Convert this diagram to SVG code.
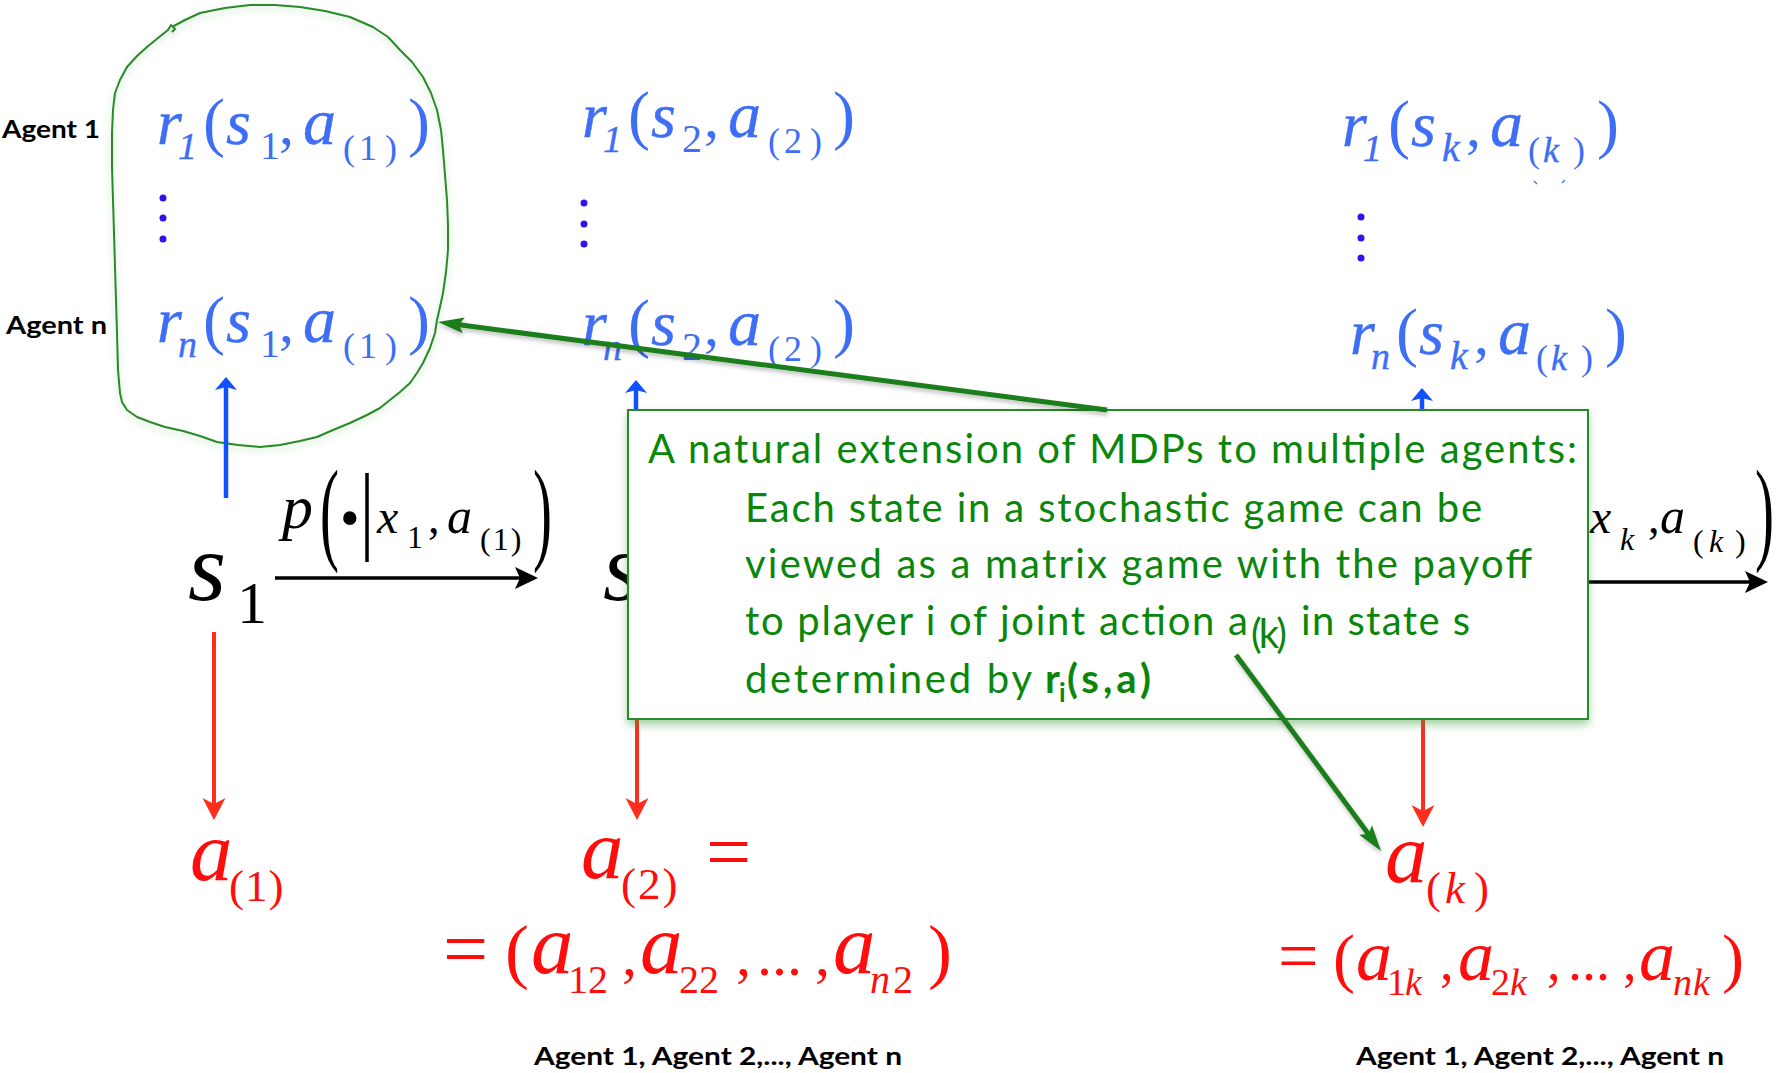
<svg xmlns="http://www.w3.org/2000/svg" width="1777" height="1073" viewBox="0 0 1777 1073">
<style>
.bi{font-family:"Liberation Serif",serif;font-style:italic;fill:#3d6ef5;stroke:#3d6ef5;stroke-width:0.4}
.bu{font-family:"Liberation Serif",serif;fill:#3d6ef5}
.ki{font-family:"Liberation Serif",serif;font-style:italic;fill:#000}
.ku{font-family:"Liberation Serif",serif;fill:#000}
.ri{font-family:"Liberation Serif",serif;font-style:italic;fill:#ff0d0d}
.ru{font-family:"Liberation Serif",serif;fill:#ff0d0d}
.lbl{font-family:Lato,"Liberation Sans",sans-serif;font-weight:700;font-size:24px;fill:#000}
.gt{font-family:Lato,"Liberation Sans",sans-serif;font-size:40px;fill:#0a860a}
.gtb{font-family:Lato,"Liberation Sans",sans-serif;font-weight:700;fill:#0a860a}
.dot{fill:#3311ee}
.blue{stroke:#1150ff;stroke-width:4.5;fill:none}
.red{stroke:#ff2d1e;stroke-width:4;fill:none}
.blk{stroke:#000;stroke-width:3.5;fill:none}
.grn{stroke:#1a7d1a;stroke-width:5;fill:none}
</style>
<defs>
<marker id="mBlue" markerUnits="userSpaceOnUse" markerWidth="30" markerHeight="30" viewBox="-2 -15 30 30" refX="5" refY="0" orient="auto"><path d="M0,-11 L13,0 L0,11 L3,0 Z" fill="#1150ff"/></marker>
<marker id="mRed" markerUnits="userSpaceOnUse" markerWidth="30" markerHeight="30" viewBox="-2 -15 30 30" refX="10" refY="0" orient="auto"><path d="M0,-11.5 L22,0 L0,11.5 L6,0 Z" fill="#ff2d1e"/></marker>
<marker id="mBlk" markerUnits="userSpaceOnUse" markerWidth="30" markerHeight="30" viewBox="-2 -15 30 30" refX="11" refY="0" orient="auto"><path d="M0,-11 L23,0 L0,11 L5,0 Z" fill="#000"/></marker>
<marker id="mGrn" markerUnits="userSpaceOnUse" markerWidth="30" markerHeight="30" viewBox="-2 -15 30 30" refX="12" refY="0" orient="auto"><path d="M0,-8 L26,0 L0,8 L5,0 Z" fill="#1a7d1a"/></marker>
<filter id="boxShadow" x="-5%" y="-10%" width="110%" height="125%"><feDropShadow dx="0" dy="5" stdDeviation="4" flood-color="#3a9a3a" flood-opacity="0.45"/></filter>
<filter id="blobShadow" x="-10%" y="-10%" width="120%" height="120%"><feDropShadow dx="0" dy="3" stdDeviation="3" flood-color="#3a9a3a" flood-opacity="0.3"/></filter>
<filter id="arrShadow" x="-10%" y="-10%" width="120%" height="120%"><feDropShadow dx="1" dy="3" stdDeviation="2" flood-color="#000" flood-opacity="0.25"/></filter>
</defs>
<rect width="1777" height="1073" fill="#fff"/>

<g id="reward-group-outline">
<path filter="url(#blobShadow)" fill="none" stroke="#2a8a2a" stroke-width="2" stroke-linejoin="round" d="M172,27 L185,20 L200,13 L225,8 L250,5 L275,5 L300,7 L325,11 L350,17 L373,27 L388,37 L400,50 L412,62 L423,77 L431,93 L437,110 L441,130 L443,150 L445,175 L447,200 L448,225 L448,250 L446,272 L443,293 L440,307 L437,320 L435,333 L430,348 L423,363 L417,373 L410,383 L400,392 L390,400 L380,408 L367,415 L350,423 L333,430 L317,437 L300,441 L280,445 L260,447 L238,445 L217,442 L200,436 L183,431 L165,427 L150,422 L137,417 L127,410 L122,402 L120,393 L118,370 L117,333 L116,300 L115,267 L114,233 L113,200 L112,167 L112,133 L113,110 L115,93 L120,80 L127,67 L137,56 L147,47 L158,38 L168,30 L171,25 L175,29 L172,32"/>
</g>

<g id="agent-labels">
<text class="lbl" x="2" y="138" textLength="98" lengthAdjust="spacingAndGlyphs">Agent 1</text>
<text class="lbl" x="6" y="334" textLength="101" lengthAdjust="spacingAndGlyphs">Agent n</text>
</g>

<g id="reward-col1-row1" transform="translate(157,144)">
<text class="bu"><tspan class="bi" x="0" y="0" font-size="64">r</tspan><tspan class="bi" x="21" y="15" font-size="38">1</tspan><tspan x="46" y="0" font-size="66">(</tspan><tspan class="bi" x="69" y="0" font-size="64">s</tspan><tspan x="103" y="15" font-size="40">1</tspan><tspan x="122" y="0" font-size="60">,</tspan><tspan class="bi" x="146" y="0" font-size="66">a</tspan><tspan x="186" y="16" font-size="36">(</tspan><tspan x="202" y="16" font-size="36">1</tspan><tspan x="228" y="16" font-size="36">)</tspan><tspan x="251" y="0" font-size="66">)</tspan></text>
</g>
<g id="reward-col1-row2" transform="translate(157,342)">
<text class="bu"><tspan class="bi" x="0" y="0" font-size="64">r</tspan><tspan class="bi" x="21" y="15" font-size="38">n</tspan><tspan x="46" y="0" font-size="66">(</tspan><tspan class="bi" x="69" y="0" font-size="64">s</tspan><tspan x="103" y="15" font-size="40">1</tspan><tspan x="122" y="0" font-size="60">,</tspan><tspan class="bi" x="146" y="0" font-size="66">a</tspan><tspan x="186" y="16" font-size="36">(</tspan><tspan x="202" y="16" font-size="36">1</tspan><tspan x="228" y="16" font-size="36">)</tspan><tspan x="251" y="0" font-size="66">)</tspan></text>
</g>
<g id="dots-col1"><circle class="dot" cx="163" cy="198" r="3.5"/><circle class="dot" cx="163" cy="218" r="3.5"/><circle class="dot" cx="163" cy="239" r="3.5"/></g>

<g id="reward-col2-row1" transform="translate(582,137)">
<text class="bu"><tspan class="bi" x="0" y="0" font-size="64">r</tspan><tspan class="bi" x="21" y="15" font-size="38">1</tspan><tspan x="46" y="0" font-size="66">(</tspan><tspan class="bi" x="69" y="0" font-size="64">s</tspan><tspan x="100" y="15" font-size="40">2</tspan><tspan x="122" y="0" font-size="60">,</tspan><tspan class="bi" x="146" y="0" font-size="66">a</tspan><tspan x="186" y="16" font-size="36">(</tspan><tspan x="202" y="16" font-size="36">2</tspan><tspan x="228" y="16" font-size="36">)</tspan><tspan x="251" y="0" font-size="66">)</tspan></text>
</g>
<g id="reward-col2-row2" transform="translate(582,345)">
<text class="bu"><tspan class="bi" x="0" y="0" font-size="64">r</tspan><tspan class="bi" x="21" y="15" font-size="38">n</tspan><tspan x="46" y="0" font-size="66">(</tspan><tspan class="bi" x="69" y="0" font-size="64">s</tspan><tspan x="100" y="15" font-size="40">2</tspan><tspan x="122" y="0" font-size="60">,</tspan><tspan class="bi" x="146" y="0" font-size="66">a</tspan><tspan x="186" y="16" font-size="36">(</tspan><tspan x="202" y="16" font-size="36">2</tspan><tspan x="228" y="16" font-size="36">)</tspan><tspan x="251" y="0" font-size="66">)</tspan></text>
</g>
<g id="dots-col2"><circle class="dot" cx="584" cy="203" r="3.5"/><circle class="dot" cx="584" cy="224" r="3.5"/><circle class="dot" cx="584" cy="244" r="3.5"/></g>

<g id="reward-colk-row1" transform="translate(1342,146)">
<text class="bu"><tspan class="bi" x="0" y="0" font-size="64">r</tspan><tspan class="bi" x="21" y="15" font-size="38">1</tspan><tspan x="46" y="0" font-size="66">(</tspan><tspan class="bi" x="69" y="0" font-size="64">s</tspan><tspan class="bi" x="100" y="15" font-size="40">k</tspan><tspan x="124" y="0" font-size="60">,</tspan><tspan class="bi" x="148" y="0" font-size="66">a</tspan><tspan x="186" y="16" font-size="36">(</tspan><tspan class="bi" x="201" y="16" font-size="36">k</tspan><tspan x="231" y="16" font-size="36">)</tspan><tspan x="255" y="0" font-size="66">)</tspan></text>
</g>
<g id="reward-colk-row2" transform="translate(1350,354)">
<text class="bu"><tspan class="bi" x="0" y="0" font-size="64">r</tspan><tspan class="bi" x="21" y="15" font-size="38">n</tspan><tspan x="46" y="0" font-size="66">(</tspan><tspan class="bi" x="69" y="0" font-size="64">s</tspan><tspan class="bi" x="100" y="15" font-size="40">k</tspan><tspan x="124" y="0" font-size="60">,</tspan><tspan class="bi" x="148" y="0" font-size="66">a</tspan><tspan x="186" y="16" font-size="36">(</tspan><tspan class="bi" x="201" y="16" font-size="36">k</tspan><tspan x="231" y="16" font-size="36">)</tspan><tspan x="255" y="0" font-size="66">)</tspan></text>
</g>
<g id="dots-colk"><circle class="dot" cx="1361" cy="217" r="3.5"/><circle class="dot" cx="1361" cy="238" r="3.5"/><circle class="dot" cx="1361" cy="258" r="3.5"/></g>
<g id="marks-colk" stroke="#3d6ef5" stroke-width="1.2"><line x1="1534" y1="181" x2="1537" y2="184"/><line x1="1565" y1="180" x2="1562" y2="183"/></g>

<g id="state-s1">
<text class="ki" x="188" y="600" font-size="98">s</text>
<text class="ku" x="237" y="623" font-size="60">1</text>
</g>
<g id="state-s2">
<text class="ki" x="603" y="600" font-size="98">s</text>
</g>

<g id="transition-label-1">
<text class="ki" x="282" y="528" font-size="62">p</text>
<text class="ku" font-size="114" transform="translate(320,549) scale(0.5,1)">(</text>
<text class="ku" x="340" y="537" font-size="56">•</text>
<line x1="367" y1="473" x2="367" y2="562" stroke="#000" stroke-width="3.5"/>
<text class="ki" x="377" y="533" font-size="48">x</text>
<text class="ku" x="407" y="548" font-size="32">1</text>
<text class="ku" x="428" y="533" font-size="46">,</text>
<text class="ki" x="447" y="533" font-size="50">a</text>
<text class="ku" x="480" y="550" font-size="32" letter-spacing="2">(1)</text>
<text class="ku" font-size="114" transform="translate(533,549) scale(0.5,1)">)</text>
</g>
<g id="transition-label-k">
<text class="ki" x="1590" y="533" font-size="48">x</text>
<text class="ki" x="1620" y="550" font-size="32">k</text>
<text class="ku" x="1648" y="533" font-size="46">,</text>
<text class="ki" x="1660" y="533" font-size="50">a</text>
<text class="ku" x="1693" y="552" font-size="32">(<tspan class="ki" x="1709">k</tspan><tspan x="1735">)</tspan></text>
<text class="ku" font-size="114" transform="translate(1755,549) scale(0.5,1)">)</text>
</g>

<g id="action-a1">
<text class="ri" x="190" y="880" font-size="85">a</text>
<text class="ru" x="229" y="901" font-size="45" letter-spacing="1">(1)</text>
</g>
<g id="action-a2">
<text class="ri" x="581" y="878" font-size="85">a</text>
<text class="ru" x="621" y="899" font-size="45" letter-spacing="2">(2)</text>
<text class="ru" x="706" y="879" font-size="80">=</text>
<text class="ru" font-size="80" x="443" y="976">=</text>
<text class="ru" x="505" y="975" font-size="72">(</text>
<text class="ri" x="531" y="973" font-size="85">a</text>
<text class="ru" x="568" y="993" font-size="40">12</text>
<text class="ru" x="622" y="975" font-size="60">,</text>
<text class="ri" x="640" y="973" font-size="85">a</text>
<text class="ru" x="679" y="993" font-size="40">22</text>
<text class="ru" x="736" y="975" font-size="60">,</text>
<text class="ru" x="757" y="975" font-size="60">...</text>
<text class="ru" x="815" y="975" font-size="60">,</text>
<text class="ri" x="833" y="973" font-size="85">a</text>
<text class="ri" x="870" y="993" font-size="40">n</text>
<text class="ru" x="893" y="993" font-size="40">2</text>
<text class="ru" x="928" y="975" font-size="72">)</text>
</g>
<g id="action-ak">
<text class="ri" x="1385" y="882" font-size="85">a</text>
<text class="ru" x="1426" y="903" font-size="45">(</text>
<text class="ri" x="1445" y="903" font-size="45">k</text>
<text class="ru" x="1474" y="903" font-size="45">)</text>
<text class="ru" x="1278" y="980" font-size="72">=</text>
<text class="ru" x="1333" y="980" font-size="66">(</text>
<text class="ri" x="1356" y="980" font-size="72">a</text>
<text class="ru" x="1387" y="995" font-size="38">1</text>
<text class="ri" x="1405" y="995" font-size="38">k</text>
<text class="ru" x="1440" y="980" font-size="54">,</text>
<text class="ri" x="1458" y="980" font-size="72">a</text>
<text class="ru" x="1491" y="995" font-size="38">2</text>
<text class="ri" x="1510" y="995" font-size="38">k</text>
<text class="ru" x="1547" y="980" font-size="54">,</text>
<text class="ru" x="1568" y="980" font-size="56">...</text>
<text class="ru" x="1623" y="980" font-size="54">,</text>
<text class="ri" x="1639" y="980" font-size="72">a</text>
<text class="ri" x="1673" y="995" font-size="38">n</text>
<text class="ri" x="1693" y="995" font-size="38">k</text>
<text class="ru" x="1722" y="980" font-size="66">)</text>
</g>

<g id="bottom-labels">
<text class="lbl" x="534" y="1065" textLength="368" lengthAdjust="spacingAndGlyphs">Agent 1, Agent 2,..., Agent n</text>
<text class="lbl" x="1356" y="1065" textLength="368" lengthAdjust="spacingAndGlyphs">Agent 1, Agent 2,..., Agent n</text>
</g>

<g id="connectors">
<line class="blue" x1="226" y1="498" x2="226" y2="385" marker-end="url(#mBlue)"/>
<line class="blue" x1="636" y1="412" x2="636" y2="388" marker-end="url(#mBlue)"/>
<line class="blue" x1="1422" y1="412" x2="1422" y2="396" marker-end="url(#mBlue)"/>
<line class="blk" x1="275" y1="578" x2="526" y2="578" marker-end="url(#mBlk)"/>
<line class="blk" x1="1586" y1="582" x2="1756" y2="582" marker-end="url(#mBlk)"/>
<line class="red" x1="214" y1="632" x2="214" y2="808" marker-end="url(#mRed)"/>
<line class="red" x1="637" y1="718" x2="637" y2="808" marker-end="url(#mRed)"/>
<line class="red" x1="1423" y1="718" x2="1423" y2="815" marker-end="url(#mRed)"/>
</g>

<g id="note-box">
<rect x="628" y="410" width="960" height="309" fill="#fff" stroke="#2a8a2a" stroke-width="2" filter="url(#boxShadow)"/>
<text class="gt" x="648" y="463" textLength="929">A natural extension of MDPs to multiple agents:</text>
<text class="gt" x="745" y="522" textLength="737">Each state in a stochastic game can be</text>
<text class="gt" x="745" y="578" textLength="787">viewed as a matrix game with the payoff</text>
<text class="gt" x="745" y="635" textLength="503">to player i of joint action a</text>
<text class="gt" x="1251" y="648" font-size="26" textLength="36">(k)</text>
<text class="gt" x="1301" y="635" textLength="169">in state s</text>
<text class="gt" x="745" y="693" textLength="287">determined by</text>
<text class="gtb" x="1045" y="693" font-size="40">r</text>
<text class="gtb" x="1059" y="702" font-size="26">i</text>
<text class="gtb" x="1067" y="693" font-size="40" textLength="84">(s,a)</text>
</g>

<g id="note-connectors" filter="url(#arrShadow)">
<line class="grn" x1="1107" y1="410" x2="451.9" y2="323.8" marker-end="url(#mGrn)"/>
<line class="grn" x1="1236" y1="655" x2="1372.7" y2="839.7" marker-end="url(#mGrn)"/>
</g>
</svg>
